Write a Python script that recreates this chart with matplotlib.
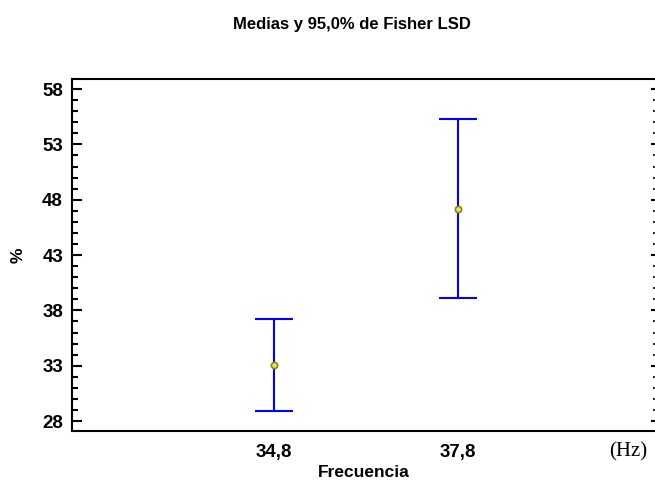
import numpy as np
import matplotlib.pyplot as plt
from matplotlib.ticker import MultipleLocator

plt.rcParams['font.family'] = ['Liberation Sans', 'DejaVu Sans']

# datos: medias e intervalos LSD al 95%
niveles = ['34,8', '37,8']
medias = [33.06, 47.2]
inferior = [28.9, 39.11]
superior = [37.21, 55.28]

pos = np.arange(1, len(niveles) + 1)
err = [np.array(medias) - np.array(inferior), np.array(superior) - np.array(medias)]

fig = plt.figure(figsize=(6.55, 4.84), dpi=100)
ax = fig.add_axes([0.110, 0.1095, 0.89, 0.727])

ax.errorbar(pos, medias, yerr=err, fmt='none', ecolor='#0000ff', elinewidth=1.5,
            capsize=14, capthick=1.5)
ax.plot(pos, medias, 'o', ms=4.5, mfc='#e8e070', mec='#8a8a00', mew=1.2, zorder=3)

ax.set_xlim(1 - 202 / 184, 2 + 197 / 184)
ax.set_ylim(27.1, 58.9)
ax.set_xticks(pos)
ax.set_xticklabels(niveles, fontsize=13.5, fontweight='bold')
ax.set_yticks(np.arange(28, 59, 5))
ax.yaxis.set_minor_locator(MultipleLocator(1))
for lab in ax.get_yticklabels():
    lab.set_fontsize(13.5)
    lab.set_fontweight('bold')

ax.tick_params(axis='x', length=0, pad=9)
ax.tick_params(axis='y', which='major', direction='in', length=7.2, width=1.5, pad=6.5)
ax.tick_params(axis='y', which='minor', direction='in', length=4.3, width=1.5)

for s in ['left', 'bottom', 'top']:
    ax.spines[s].set_linewidth(1.5)
ax.spines['right'].set_visible(False)

sec = ax.secondary_yaxis('right')
sec.set_yticks(np.arange(28, 59, 5))
sec.yaxis.set_minor_locator(MultipleLocator(1))
sec.tick_params(which='major', direction='in', length=3, width=1.5, labelright=False)
sec.tick_params(which='minor', direction='in', length=1.2, width=1.2)
sec.spines['right'].set_visible(False)

ax.set_xlabel('Frecuencia', fontsize=12.5, fontweight='bold', labelpad=3)
ax.set_ylabel('%', fontsize=12.5, fontweight='bold', labelpad=12)
fig.text(628 / 655, 1 - 452 / 484, '(Hz)', fontsize=15, family='Liberation Serif',
         ha='center', va='center')
fig.text(0.537, 0.950, 'Medias y 95,0% de Fisher LSD', fontsize=12, fontweight='bold',
         ha='center', va='center')

fig.savefig('out.png', dpi=100)
